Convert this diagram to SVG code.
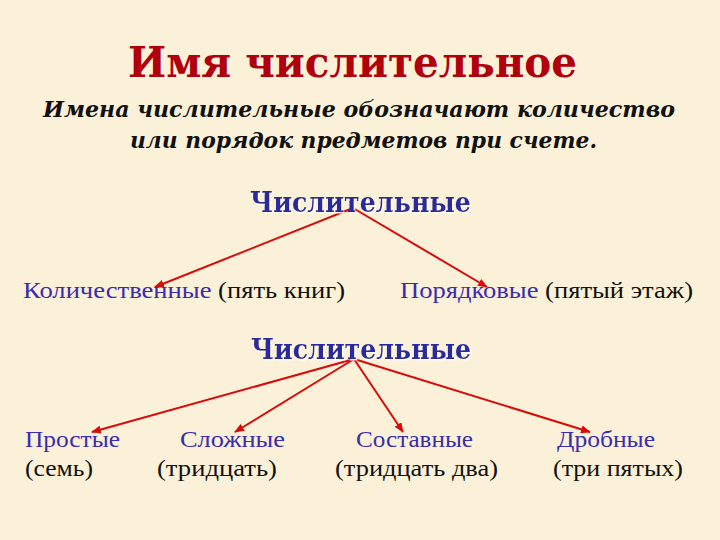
<svg xmlns="http://www.w3.org/2000/svg" width="720" height="540" viewBox="0 0 720 540">
<style>
.title{font-family:"DejaVu Serif","Liberation Serif",serif;font-weight:bold;fill:#b0000e;font-size:42px}
.sub{font-family:"DejaVu Serif","Liberation Serif",serif;font-weight:bold;font-style:italic;fill:#111;font-size:22px}
.head{font-family:"DejaVu Serif","Liberation Serif",serif;font-weight:bold;fill:#2c2c9c;font-size:27px}
.lbl{font-family:"Liberation Serif","Times New Roman",serif;font-size:24px;fill:#3a2cb0}
.ex{fill:#111}
.arr{stroke:#d80a0a;stroke-width:2;fill:none;marker-end:url(#ah)}
</style>
<defs>
<marker id="ah" markerUnits="userSpaceOnUse" markerWidth="10" markerHeight="8" refX="9" refY="4" orient="auto">
<path d="M0,0 L10,4 L0,8 Z" fill="#d80a0a"/>
</marker>
<filter id="sh" x="-5%" y="-20%" width="110%" height="140%">
<feDropShadow dx="1.5" dy="1.5" stdDeviation="0.5" flood-color="#ffffff" flood-opacity="0.9"/>
</filter>
</defs>
<rect width="720" height="540" fill="#fbf1d8"/>
<g id="title">
<text class="title" x="128" y="77" textLength="449" lengthAdjust="spacingAndGlyphs">Имя числительное</text>
</g>
<g id="definition">
<text class="sub" x="43" y="117" textLength="632" lengthAdjust="spacingAndGlyphs">Имена числительные обозначают количество</text>
<text class="sub" x="130" y="148" textLength="467" lengthAdjust="spacingAndGlyphs">или порядок предметов при счете.</text>
</g>
<g id="connectors">
<line class="arr" x1="353" y1="208" x2="155" y2="287"/>
<line class="arr" x1="353" y1="208" x2="487" y2="287"/>
<line class="arr" x1="354" y1="359" x2="92" y2="432"/>
<line class="arr" x1="354" y1="359" x2="235" y2="432"/>
<line class="arr" x1="354" y1="359" x2="403" y2="432"/>
<line class="arr" x1="354" y1="359" x2="590" y2="432"/>
</g>
<g id="head1">
<text class="head" filter="url(#sh)" x="250" y="212" textLength="221" lengthAdjust="spacingAndGlyphs">Числительные</text>
</g>
<g id="cardinal">
<text class="lbl" x="23" y="298" textLength="322" lengthAdjust="spacingAndGlyphs">Количественные <tspan class="ex">(пять книг)</tspan></text>
</g>
<g id="ordinal">
<text class="lbl" x="400" y="298" textLength="293" lengthAdjust="spacingAndGlyphs">Порядковые <tspan class="ex">(пятый этаж)</tspan></text>
</g>
<g id="head2">
<text class="head" filter="url(#sh)" x="251" y="359" textLength="220" lengthAdjust="spacingAndGlyphs">Числительные</text>
</g>
<g id="simple">
<text class="lbl" x="25" y="447" textLength="95" lengthAdjust="spacingAndGlyphs">Простые</text>
<text class="lbl ex" x="25" y="476" textLength="68" lengthAdjust="spacingAndGlyphs">(семь)</text>
</g>
<g id="complex">
<text class="lbl" x="180" y="447" textLength="105" lengthAdjust="spacingAndGlyphs">Сложные</text>
<text class="lbl ex" x="157" y="476" textLength="120" lengthAdjust="spacingAndGlyphs">(тридцать)</text>
</g>
<g id="compound">
<text class="lbl" x="356" y="447" textLength="117" lengthAdjust="spacingAndGlyphs">Составные</text>
<text class="lbl ex" x="335" y="476" textLength="163" lengthAdjust="spacingAndGlyphs">(тридцать два)</text>
</g>
<g id="fractional">
<text class="lbl" x="557" y="447" textLength="98" lengthAdjust="spacingAndGlyphs">Дробные</text>
<text class="lbl ex" x="553" y="476" textLength="130" lengthAdjust="spacingAndGlyphs">(три пятых)</text>
</g>
</svg>
